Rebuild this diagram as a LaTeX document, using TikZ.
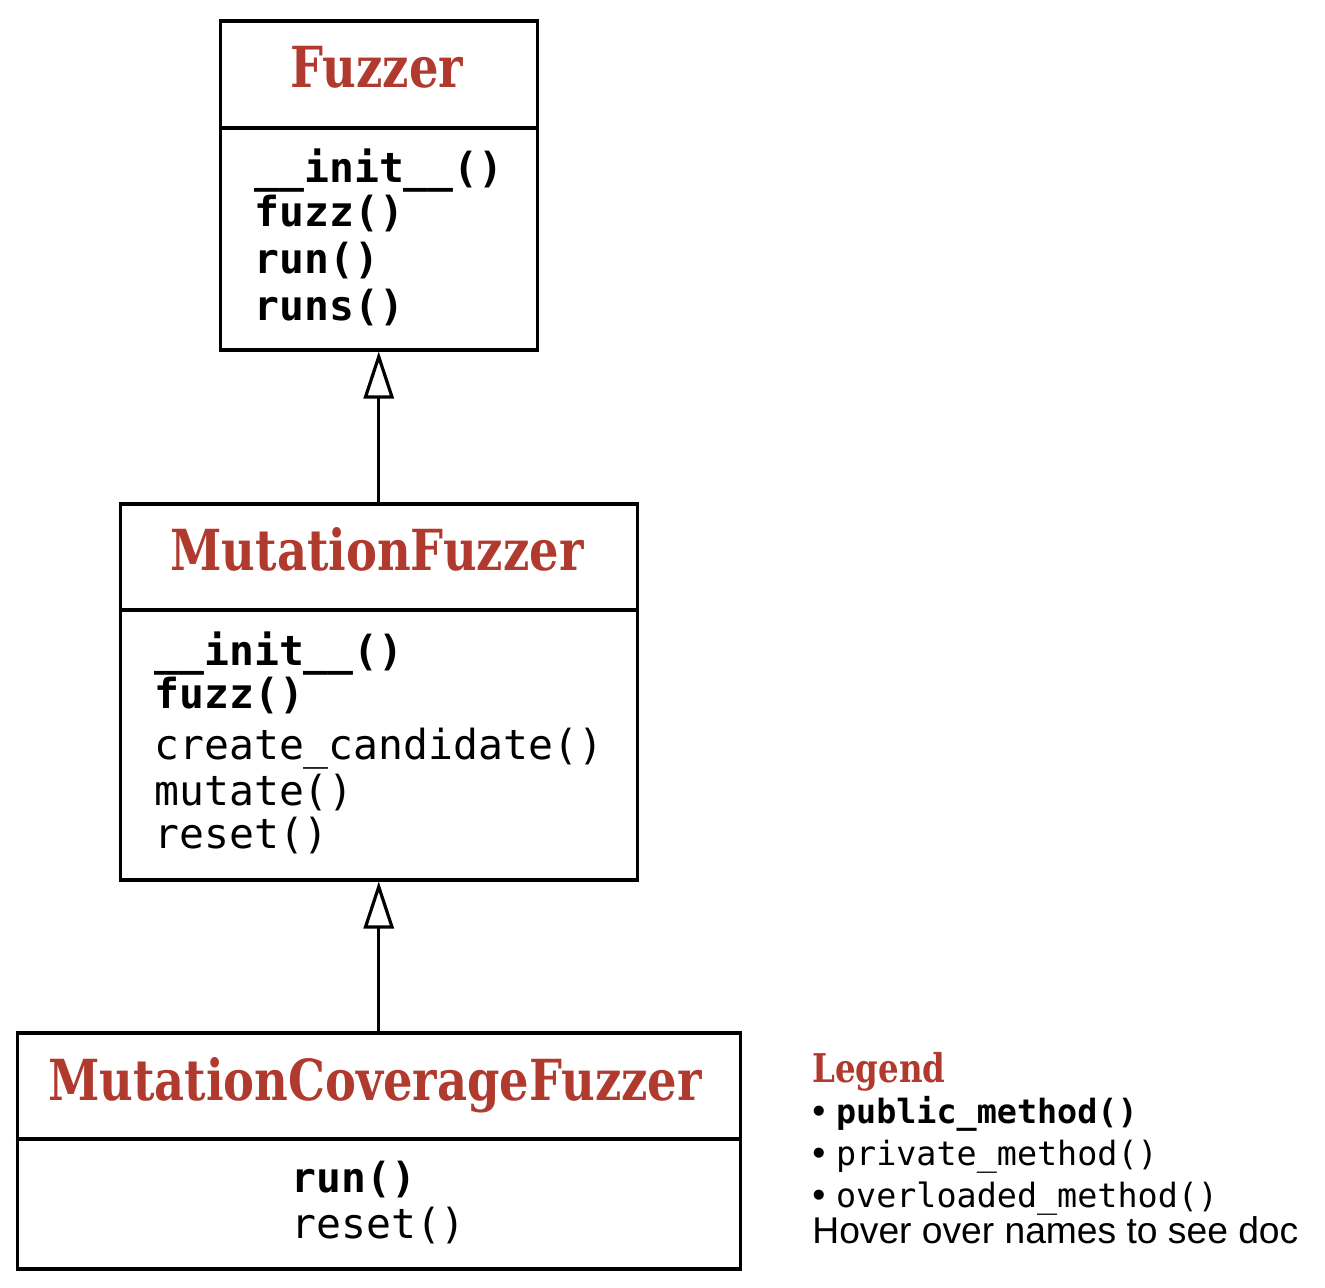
\documentclass[tikz,border=0pt]{standalone}
\usepackage{fontspec}
\setmainfont{DejaVu Serif}
\setsansfont{Liberation Sans}
\setmonofont{DejaVu Sans Mono}
\usetikzlibrary{arrows.meta}
\definecolor{classred}{RGB}{176,58,46}
\newcommand{\clsname}[1]{\scalebox{0.82}[1]{\bfseries #1}}

\begin{document}
\begin{tikzpicture}[x=0.5pt,y=-0.5pt]

        \tikzstyle{every node}=[inner sep=0pt]
        \tikzstyle{classbox}=[draw,rectangle,line width=1.75pt,anchor=north west]
        \tikzstyle{title}=[anchor=base,text=classred,font=\fontsize{28.3}{32}\selectfont]
        \tikzstyle{pub}=[anchor=base west,font=\fontsize{20.7}{24}\selectfont\ttfamily\bfseries]
        \tikzstyle{priv}=[anchor=base west,font=\fontsize{20.7}{24}\selectfont\ttfamily]
        \tikzstyle{inherit}=[line width=1.6pt,-{Triangle[open,length=23.5pt,width=15pt]}]

        \useasboundingbox (0,0) rectangle (1325,1287);

        % Fuzzer
        \node[classbox,minimum width=158.5pt,minimum height=164.5pt] (fuzzer) at (218.5,19) {};
        \draw[line width=1.75pt] (fuzzer.west |- 0,128) -- (fuzzer.east |- 0,128);
        \node[title] (fuzzer_t) at (377,87) {\clsname{Fuzzer}};
        \foreach \y / \m in {182/\_\_init\_\_(),226/fuzz(),273/run(),320/runs()} {
            \node[pub] (fuzzer_\y) at (254,\y) {\m};
        }

        % MutationFuzzer
        \node[classbox,minimum width=258.5pt,minimum height=188pt] (mutfuzzer) at (118.5,502) {};
        \draw[line width=1.75pt] (mutfuzzer.west |- 0,610) -- (mutfuzzer.east |- 0,610);
        \node[title] (mutfuzzer_t) at (377,570) {\clsname{MutationFuzzer}};
        \foreach \y / \m in {665/\_\_init\_\_(),708/fuzz()} {
            \node[pub] (mutfuzzer_\y) at (154,\y) {\m};
        }
        \foreach \y / \m in {759/create\_candidate(),805/mutate(),848/reset()} {
            \node[priv] (mutfuzzer_\y) at (154,\y) {\m};
        }

        % MutationCoverageFuzzer
        \node[classbox,minimum width=361.5pt,minimum height=118pt] (covfuzzer) at (15.5,1031) {};
        \draw[line width=1.75pt] (covfuzzer.west |- 0,1139) -- (covfuzzer.east |- 0,1139);
        \node[title] (covfuzzer_t) at (375,1100) {\clsname{MutationCoverageFuzzer}};
        \node[pub] (covfuzzer_run) at (291,1192) {run()};
        \node[priv] (covfuzzer_reset) at (291,1238) {reset()};

        \draw[inherit] (mutfuzzer.north) -- (fuzzer.south);
        \draw[inherit] (covfuzzer.north) -- (mutfuzzer.south);

        % legend
        \node[anchor=base west,text=classred,font=\fontsize{19.8}{22}\selectfont] (legend) at (812,1082) {\clsname{Legend}};
        \node[anchor=base west,font=\fontsize{16.7}{20}\selectfont] (legend_pub) at (812,1123) {{\sffamily\fontsize{18.6}{20}\selectfont •} {\ttfamily\bfseries public\_method()}};
        \node[anchor=base west,font=\fontsize{16.7}{20}\selectfont] (legend_priv) at (812,1165) {{\sffamily\fontsize{18.6}{20}\selectfont •} {\ttfamily private\_method()}};
        \node[anchor=base west,font=\fontsize{16.7}{20}\selectfont] (legend_over) at (812,1207) {{\sffamily\fontsize{18.6}{20}\selectfont •} {\ttfamily overloaded\_method()}};
        \node[anchor=base west,font=\sffamily\fontsize{18.6}{22}\selectfont] (legend_hover) at (812,1243) {Hover over names to see doc};

    \end{tikzpicture}
\end{document}
